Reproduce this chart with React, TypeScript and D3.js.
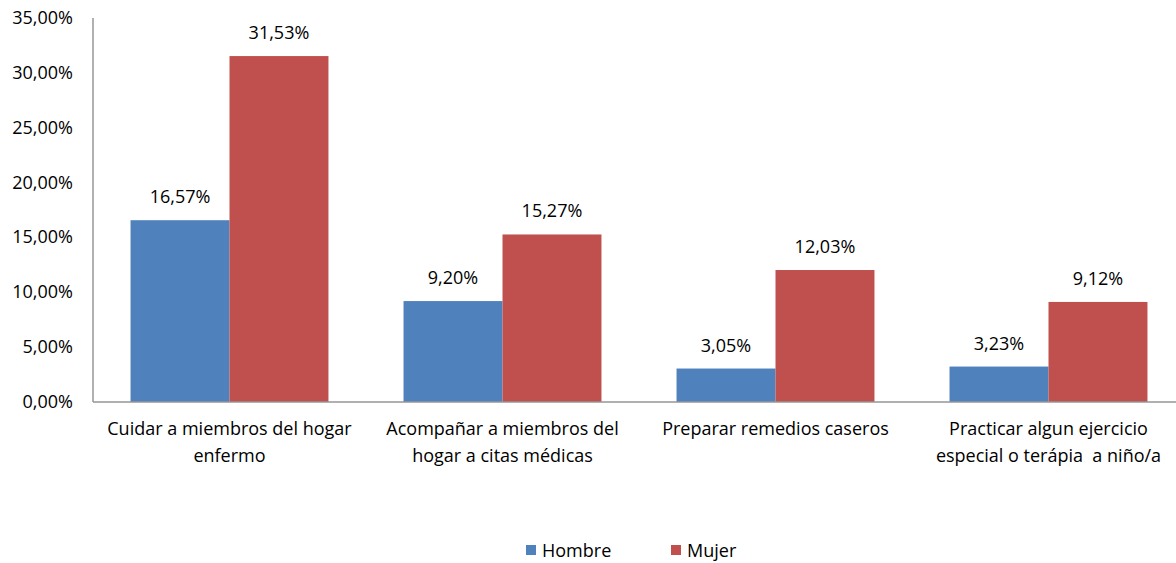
import React from "react";
import * as d3 from "d3";

const categories: string[][] = [
  ["Cuidar a miembros del hogar", "enfermo"],
  ["Acompañar a miembros del", "hogar a citas médicas"],
  ["Preparar remedios caseros"],
  ["Practicar algun ejercicio", "especial o terápia  a niño/a"],
];
const series = ["Hombre", "Mujer"];
const hombre = [16.57, 9.2, 3.05, 3.23];
const mujer = [31.53, 15.27, 12.03, 9.12];
const yTicks = [0, 5, 10, 15, 20, 25, 30, 35];
const colors = ["#4F81BD", "#C0504D"];

const W = 1176;
const H = 563;
const left = 93;
const right = 1185;
const top = 18;
const bottom = 402;
const font = "'Open Sans', sans-serif";
const fs = 18;

const fmt = (v: number) => v.toFixed(2).replace(".", ",") + "%";

export default function App() {
  const x = d3
    .scaleBand<number>()
    .domain(d3.range(categories.length))
    .range([left, right])
    .paddingInner(0.275)
    .paddingOuter(0.1375);
  const x1 = d3.scaleBand<number>().domain([0, 1]).range([0, x.bandwidth()]);
  const y = d3.scaleLinear().domain([0, 35]).range([bottom, top]);
  const values = [hombre, mujer];

  return (
    <svg width={W} height={H} style={{ position: "absolute", left: 0, top: 0 }} fontFamily={font}>
      <rect width={W} height={H} fill="#fff" />
      {yTicks.map((t) => (
        <text key={t} x={73} y={y(t) + 6} textAnchor="end" fontSize={fs} fill="#000">
          {fmt(t)}
        </text>
      ))}
      {values.map((vals, si) =>
        vals.map((v, i) => {
          const bx = (x(i) as number) + (x1(si) as number);
          return (
            <g key={`${si}-${i}`}>
              <rect x={bx} y={y(v)} width={x1.bandwidth()} height={bottom - y(v)} fill={colors[si]} />
              <text x={bx + x1.bandwidth() / 2} y={y(v) - 17} textAnchor="middle" fontSize={fs} fill="#000">
                {fmt(v)}
              </text>
            </g>
          );
        })
      )}
      <line x1={left} x2={left} y1={top} y2={bottom} stroke="#969696" strokeWidth={1.5} />
      <line x1={left} x2={W} y1={bottom} y2={bottom} stroke="#969696" strokeWidth={1.5} />
      {categories.map((lines, i) => (
        <text key={i} textAnchor="middle" fontSize={fs} fill="#000" style={{ whiteSpace: "pre" }}>
          {lines.map((l, j) => (
            <tspan key={j} x={(x(i) as number) + x.bandwidth() / 2} y={435 + j * 27}>
              {l}
            </tspan>
          ))}
        </text>
      ))}
      {series.map((s, i) => {
        const lx = i === 0 ? 526 : 671;
        return (
          <g key={s}>
            <rect x={lx} y={545} width={10} height={10} fill={colors[i]} />
            <text x={lx + 16} y={557} fontSize={fs} fill="#000">
              {s}
            </text>
          </g>
        );
      })}
    </svg>
  );
}
